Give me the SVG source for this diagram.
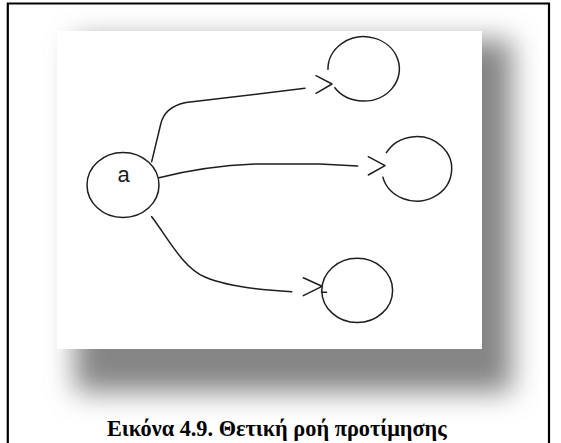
<svg xmlns="http://www.w3.org/2000/svg" width="561" height="443" viewBox="0 0 561 443">
  <defs>
    <filter id="blur" x="-20%" y="-20%" width="140%" height="140%">
      <feGaussianBlur stdDeviation="14"/>
    </filter>
  </defs>
  <style>
    .ln { fill: none; stroke: #1e1e1e; stroke-width: 1.5; stroke-linecap: round; stroke-linejoin: round; }
    .node { fill: none; stroke: #1e1e1e; stroke-width: 1.5; }
    .lbl { font-family: "Liberation Sans", Arial, sans-serif; font-size: 22px; fill: #1a1a1a; text-anchor: middle; }
    .cap { font-family: "Liberation Serif", "Times New Roman", serif; font-size: 22.3px; font-weight: bold; fill: #000; }
  </style>
  <rect width="561" height="443" fill="#fff"/>
  <!-- frame -->
  <path d="M7.8,443 V3.5 H549 V443" fill="none" stroke="#000" stroke-width="2.2"/>
  <!-- shadow + picture box -->
  <rect x="75" y="40" width="437" height="352" fill="#858585" filter="url(#blur)"/>
  <rect x="57" y="31" width="425" height="318" fill="#fff"/>

  <g id="connectors">
    <path class="ln" d="M151.7,161.7 L160.5,125 Q164,107 186,102.5 L305,88.3"/>
    <path class="ln" d="M316,75.7 L332,84 L316,93.3"/>
    <path class="ln" d="M159,177.7 Q205,166 255,164 L320,164 L357.7,166"/>
    <path class="ln" d="M368.3,156.7 L385,165.7 L368.3,175"/>
    <path class="ln" d="M151.7,216.7 C168,238 183,268 205,277 C226,286 258,290 291.7,291.7"/>
    <path class="ln" d="M303.3,277.7 L322,286.3 L303.3,295.7"/>
    <path class="ln" d="M321.5,292.3 L326.5,292.3"/>
  </g>

  <g id="node-a">
    <ellipse class="node" cx="123" cy="185" rx="36" ry="32.5"/>
    <text class="lbl" x="123.5" y="182">a</text>
  </g>
  <g id="node-top">
    <path class="node" d="M328,69.9 A35.7,32.2 0 1 1 334.4,87.3"/>
  </g>
  <g id="node-middle">
    <path class="node" d="M386.1,153.2 A35,32.2 0 1 1 382.7,176.6"/>
  </g>
  <g id="node-bottom">
    <ellipse class="node" cx="357.2" cy="290.4" rx="35.4" ry="32.1"/>
  </g>

  <text class="cap" x="107" y="436">Εικόνα 4.9. Θετική ροή προτίμησης</text>
</svg>
